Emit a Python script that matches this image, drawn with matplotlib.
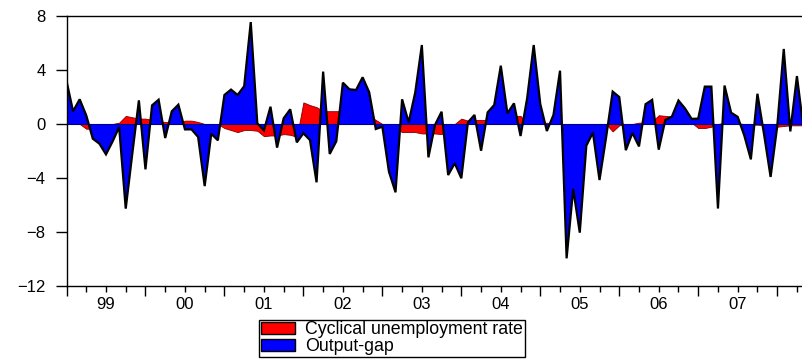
import numpy as np
import matplotlib.pyplot as plt
from matplotlib.patches import Patch

plt.rcParams['font.family'] = ['Liberation Sans', 'DejaVu Sans']

# monthly series, 1999M01 onwards
output_gap = [3.19, 0.94, 1.83, 0.64, -1.09, -1.46, -2.25, -1.30, -0.22, -6.27,
              -2.20, 1.75, -3.36, 1.38, 1.80, -1.04, 0.94, 1.43, -0.40, -0.40,
              -0.96, -4.60, -0.72, -1.21, 2.15, 2.55, 2.15, 2.80, 7.55, 0.05,
              -0.48, 1.28, -1.75, 0.42, 1.09, -1.36, -0.69, -1.19, -4.32, 3.88,
              -2.22, -1.28, 3.06, 2.57, 2.52, 3.46, 2.35, -0.37, -0.20, -3.53,
              -5.06, 1.83, 0.12, 2.35, 5.85, -2.47, -0.07, 0.91, -3.78, -2.91,
              -4.02, 0.12, 0.67, -1.98, 0.86, 1.41, 4.32, 0.79, 1.53, -0.89,
              1.90, 5.85, 1.48, -0.52, 0.67, 3.95, -9.95, -4.81, -8.05, -1.60,
              -0.64, -4.15, -1.00, 2.40, 2.00, -1.94, -0.66, -1.66, 1.47, 1.79,
              -1.90, 0.30, 0.55, 1.74, 1.15, 0.38, 0.40, 2.77, 2.77, -6.26,
              2.85, 0.84, 0.53, -0.85, -2.62, 2.24, -0.75, -3.92, -0.20, 5.56,
              -0.55, 3.55, -0.30]

cyc_unemp = [0.00, 0.00, 0.00, -0.35, -0.35, -0.10, -0.05, 0.00, 0.10, 0.60,
             0.50, 0.40, 0.40, 0.30, 0.20, 0.15, 0.10, 0.05, 0.25, 0.25,
             0.15, 0.00, 0.00, 0.00, -0.30, -0.45, -0.60, -0.45, -0.45, -0.50,
             -0.90, -0.85, -0.85, -0.75, -0.80, -0.95, 1.60, 1.40, 1.25, 0.95,
             0.95, 0.95, 0.95, 0.90, 0.85, 0.80, 0.60, 0.30, 0.00, -0.10,
             -0.30, -0.60, -0.60, -0.60, -0.70, -0.70, -0.70, -0.75, -0.30, 0.00,
             0.40, 0.25, 0.30, 0.30, 0.30, 0.20, 0.20, 0.40, 0.60, 0.60,
             0.00, 0.00, 0.00, 0.10, 0.00, 0.00, 0.00, 0.00, 0.00, 0.00,
             0.00, 0.00, 0.00, -0.55, -0.10, 0.00, 0.00, 0.10, 0.10, 0.20,
             0.65, 0.60, 0.55, 0.40, 0.20, 0.10, -0.30, -0.30, -0.20, 0.00,
             0.10, 0.05, 0.05, 0.00, -0.05, -0.05, -0.10, -0.10, -0.20, -0.15,
             -0.10, -0.10, -0.10]

years = ['99', '00', '01', '02', '03', '04', '05', '06', '07']

t = np.arange(len(output_gap))

fig = plt.figure(figsize=(8.02, 3.62), dpi=100)
ax = fig.add_axes([66.5 / 802, 1 - 286 / 362, 737 / 802, 270 / 362])

ax.fill_between(t, 0, cyc_unemp, facecolor='#ff0000', edgecolor='#800000', lw=0.6)
ax.fill_between(t, 0, output_gap, facecolor='#0000ff', edgecolor='none')
ax.axhline(0, color='#000080', lw=0.8)
ax.plot(t, output_gap, color='black', lw=1.6, solid_joinstyle='miter')

ax.set_xlim(0, len(t) - 1)
ax.set_ylim(-12, 8)
ax.set_yticks([-12, -8, -4, 0, 4, 8])
ax.tick_params(axis='y', length=8, width=1, pad=7, labelsize=12)

# year boundaries as long ticks, quarters as short ones
ax.set_xticks(np.arange(0, len(t), 12))
ax.set_xticks(np.arange(0, len(t), 3), minor=True)
ax.tick_params(axis='x', which='major', length=7, width=1, labelbottom=False)
ax.tick_params(axis='x', which='minor', length=4, width=1)

sec = ax.secondary_xaxis('bottom')
sec.set_xticks(np.arange(6, 12 * len(years), 12), years)
sec.tick_params(length=0, pad=8, labelsize=12)
sec.spines['bottom'].set_visible(False)

for s in ax.spines.values():
    s.set_linewidth(1)

handles = [Patch(facecolor='#ff0000', edgecolor='black', label='Cyclical unemployment rate'),
           Patch(facecolor='#0000ff', edgecolor='black', label='Output-gap')]
fig.legend(handles=handles, loc='center', bbox_to_anchor=(0.489, 0.065),
           frameon=True, fancybox=False, edgecolor='black', framealpha=1,
           fontsize=12.8, handlelength=1.9, handleheight=0.7, borderpad=0.1,
           labelspacing=0.0, handletextpad=0.6, borderaxespad=0)

fig.savefig('out.png', dpi=100)
